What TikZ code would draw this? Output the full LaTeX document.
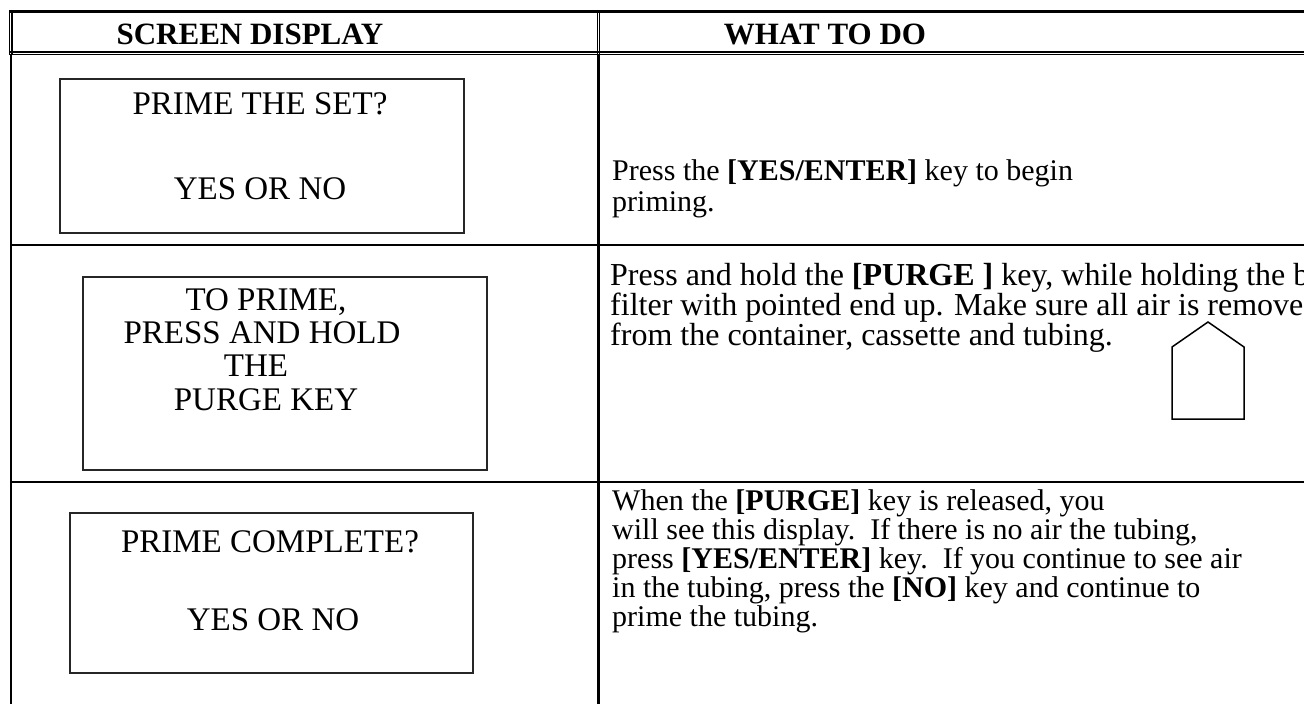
\documentclass[tikz,border=0pt]{standalone}
\usepackage{fontspec}
\setmainfont{Liberation Serif}
\tikzset{
  hdr/.style={font=\fontsize{31}{31}\selectfont\bfseries, inner sep=0pt, anchor=base},
  body/.style={font=\fontsize{30}{30}\selectfont, inner sep=0pt, anchor=base west},
  bodybig/.style={font=\fontsize{32}{32}\selectfont, inner sep=0pt, anchor=base west},
  scr/.style={font=\fontsize{33}{33}\selectfont, inner sep=0pt, anchor=base},
  screenbox/.style={draw=black!85, line width=1.4pt},
  rowrule/.style={line width=2.5pt},
  thinrule/.style={line width=1.5pt},
}
\begin{document}
\begin{tikzpicture}[x=1pt,y=-1pt]
\useasboundingbox (0,0) rectangle (1304,704);
\clip (0,0) rectangle (1304,704);
% table frame
\draw[line width=3.3pt] (9,11.6) -- (1304,11.6);
\draw[thinrule] (9,51.8) -- (1304,51.8);
\draw[thinrule] (9,54.4) -- (1304,54.4);
\draw[line width=1.3pt] (9.6,10) -- (9.6,55);
\draw[line width=1.3pt] (11.9,10) -- (11.9,55);
\draw[rowrule] (10.8,55) -- (10.8,704);
\draw[line width=1.3pt] (597.3,10) -- (597.3,55);
\draw[line width=1.3pt] (599.7,10) -- (599.7,55);
\draw[rowrule] (598.3,55) -- (598.3,704);
\draw[rowrule] (10,245) -- (1304,245);
\draw[rowrule] (10,482) -- (1304,482);
% header
\node[hdr] (h1) at (250,44) {SCREEN DISPLAY};
\node[hdr] (h2) at (825,44) {WHAT TO DO};
% screen boxes
\draw[screenbox] (60,79) rectangle (464,233);
\node[scr] (s1a) at (260,114) {PRIME THE SET?};
\node[scr] (s1b) at (260,199) {YES OR NO};
\draw[screenbox] (83,277) rectangle (487,470);
\node[scr] (s2a) at (266,310) {TO PRIME,};
\node[scr] (s2b) at (262,343) {PRESS AND HOLD};
\node[scr] (s2c) at (256,376) {THE};
\node[scr] (s2d) at (266,410) {PURGE KEY};
\draw[screenbox] (70,513) rectangle (473,673);
\node[scr] (s3a) at (270,552) {PRIME COMPLETE?};
\node[scr] (s3b) at (273,630) {YES OR NO};
% instructions
\node[body] (r1a) at (612,180) {Press the \textbf{[YES/ENTER]} key to begin};
\node[body] (r1b) at (612,211) {priming.};
\node[bodybig] (r2a) at (610,285) {Press and hold the \textbf{[PURGE ]} key, while holding the b};
\node[bodybig] (r2b) at (610,315) {filter with pointed end up. Make sure all air is removed};
\node[bodybig] (r2c) at (610,345) {from the container, cassette and tubing.};
\node[body] (r3a) at (612,510) {When the \textbf{[PURGE]} key is released, you};
\node[body] (r3b) at (612,539) {will see this display.\ \ If there is no air the tubing,};
\node[body] (r3c) at (612,568) {press \textbf{[YES/ENTER]} key.\ \ If you continue to see air};
\node[body] (r3d) at (612,597) {in the tubing, press the \textbf{[NO]} key and continue to};
\node[body] (r3e) at (612,626) {prime the tubing.};
% filter sketch
\draw[line width=1.5pt] (1172,419) -- (1172,347) -- (1208,322) -- (1244,347) -- (1244,419) -- cycle;
\end{tikzpicture}
\end{document}
